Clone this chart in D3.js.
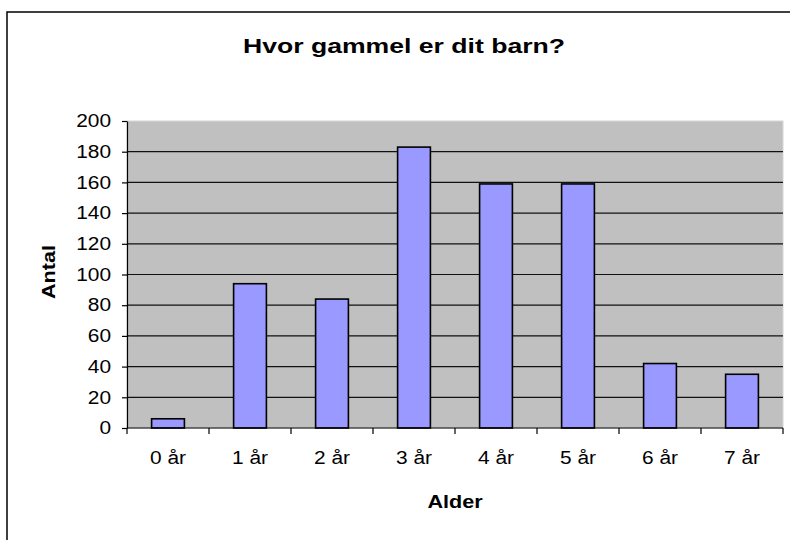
<!DOCTYPE html>
<html>
<head>
<meta charset="utf-8">
<script src="https://cdn.jsdelivr.net/npm/d3@7"></script>
<style>
  body { margin: 0; background: #fff; }
  text { font-family: "Liberation Sans", Arial, sans-serif; fill: #000; }
</style>
</head>
<body>
<div id="chart"></div>
<script>
// ---- data ----
var categories = ['0 år', '1 år', '2 år', '3 år', '4 år', '5 år', '6 år', '7 år'];
var counts = [6, 94, 84, 183, 159, 159, 42, 35];
var yTicks = [0, 20, 40, 60, 80, 100, 120, 140, 160, 180, 200];
var title = 'Hvor gammel er dit barn?';
var xTitle = 'Alder';
var yTitle = 'Antal';

// ---- layout ----
var W = 790, H = 540;
var plot = {left: 127, top: 121, right: 783, bottom: 428};

var svg = d3.select('#chart').append('svg')
    .attr('width', W)
    .attr('height', H);

// chart border (runs off the right and bottom)
svg.append('rect')
    .attr('x', 7).attr('y', 12)
    .attr('width', 820).attr('height', 560)
    .attr('fill', '#fff')
    .attr('stroke', '#000')
    .attr('stroke-width', 1.5);

var x = d3.scaleBand()
    .domain(categories)
    .range([plot.left, plot.right])
    .paddingInner(0.6)
    .paddingOuter(0.3);

var y = d3.scaleLinear()
    .domain([0, 200])
    .range([plot.bottom, plot.top]);

// plot background
svg.append('rect')
    .attr('x', plot.left).attr('y', plot.top)
    .attr('width', plot.right - plot.left)
    .attr('height', plot.bottom - plot.top)
    .attr('fill', '#c0c0c0')
    .attr('stroke', '#d6d6d6')
    .attr('stroke-width', 1);

// gridlines
svg.append('g').selectAll('line')
    .data(yTicks.filter(function(d){ return d > 0 && d < 200; }))
    .enter()
    .append('line')
        .attr('x1', plot.left).attr('x2', plot.right)
        .attr('y1', function(d){ return y(d); })
        .attr('y2', function(d){ return y(d); })
        .attr('stroke', '#111')
        .attr('stroke-width', 1.2);

// bars
svg.append('g').selectAll('rect')
    .data(counts)
    .enter()
    .append('rect')
        .attr('x', function(d,i){ return x(categories[i]); })
        .attr('y', function(d){ return y(d); })
        .attr('width', x.bandwidth())
        .attr('height', function(d){ return y(0) - y(d); })
        .attr('fill', '#9999ff')
        .attr('stroke', '#000')
        .attr('stroke-width', 1.6);

// y axis
var yAxis = svg.append('g')
    .attr('transform', 'translate(' + plot.left + ',0)')
    .call(d3.axisLeft(y).tickValues(yTicks).tickSize(5).tickPadding(11).tickSizeOuter(0));
yAxis.select('.domain').attr('stroke', '#000').attr('stroke-width', 1.2);
yAxis.selectAll('.tick line').attr('stroke', '#000').attr('stroke-width', 1.2);
yAxis.selectAll('text').attr('class', 'lbl').attr('font-size', 18).attr('fill', '#000');

// x axis: labels at band centres, ticks at band edges
var xAxis = svg.append('g')
    .attr('transform', 'translate(0,' + plot.bottom + ')')
    .call(d3.axisBottom(x).tickSize(0).tickPadding(23));
xAxis.select('.domain').remove();
xAxis.selectAll('text').attr('class', 'lbl').attr('font-size', 18).attr('fill', '#000');

var edges = categories.map(function(c){ return x(c) - x.step() * 0.3; });
edges.push(plot.right);
svg.append('line')
    .attr('x1', plot.left).attr('x2', plot.right)
    .attr('y1', plot.bottom).attr('y2', plot.bottom)
    .attr('stroke', '#000').attr('stroke-width', 1.2);
svg.append('g').selectAll('line')
    .data(edges)
    .enter()
    .append('line')
        .attr('x1', function(d){ return d; })
        .attr('x2', function(d){ return d; })
        .attr('y1', plot.bottom).attr('y2', plot.bottom + 6)
        .attr('stroke', '#000').attr('stroke-width', 1.2);

// titles
svg.append('text')
    .attr('x', 404).attr('y', 53)
    .attr('text-anchor', 'middle')
    .attr('font-size', 21)
    .attr('font-weight', 'bold')
    .attr('textLength', 322)
    .attr('lengthAdjust', 'spacingAndGlyphs')
    .text(title);

svg.append('text')
    .attr('class', 'ttl')
    .attr('x', (plot.left + plot.right) / 2).attr('y', 508)
    .attr('text-anchor', 'middle')
    .attr('font-size', 18)
    .attr('font-weight', 'bold')
    .text(xTitle);

svg.append('text')
    .attr('class', 'ttl')
    .attr('transform', 'translate(55,272) rotate(-90)')
    .attr('text-anchor', 'middle')
    .attr('font-size', 18)
    .attr('font-weight', 'bold')
    .text(yTitle);

// the text in the picture is a bit wider than normal
function widen(sel, k) {
    sel.each(function(){
        var w = this.getComputedTextLength();
        d3.select(this)
            .attr('textLength', w * k)
            .attr('lengthAdjust', 'spacingAndGlyphs');
    });
}
widen(svg.selectAll('text.lbl'), 1.16);
widen(svg.selectAll('text.ttl'), 1.2);
</script>
</body>
</html>
